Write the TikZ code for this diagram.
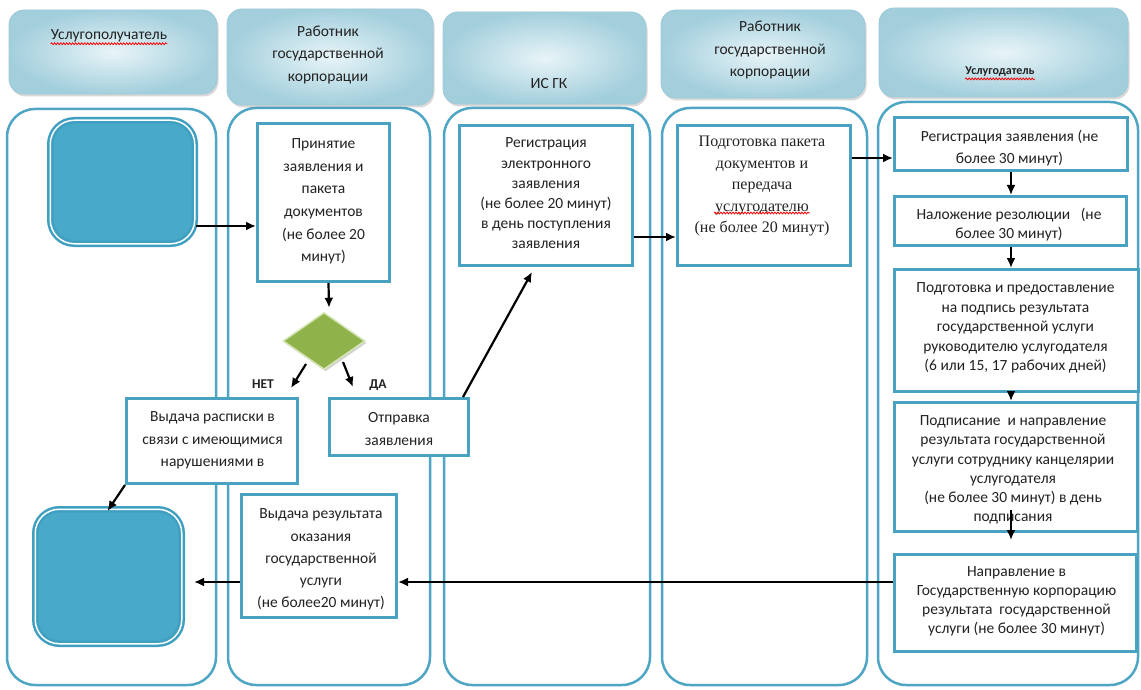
\documentclass[tikz,border=0pt]{standalone}
\usepackage{fontspec}
\setmainfont{Carlito}
\newfontfamily\serifru{Liberation Serif}
\usetikzlibrary{shapes.geometric,arrows.meta,calc,shadows,decorations.pathmorphing}
\newcommand\myfs[2]{\fontsize{#1pt}{#2pt}\selectfont}
\definecolor{lanecol}{HTML}{4EA5C4}
\definecolor{boxcol}{HTML}{4AA2C2}
\definecolor{termfill}{HTML}{48A9C8}
\definecolor{termring}{HTML}{3F9FC0}
\definecolor{hdrlight}{HTML}{E8F4F8}
\definecolor{hdrdark}{HTML}{A3CFDC}
\definecolor{hdrline}{HTML}{9CCAD8}
\definecolor{diafill}{HTML}{8FB24B}
\definecolor{diaedge}{HTML}{D5E5B3}
\definecolor{txtcol}{HTML}{222222}
\begin{document}
\begin{tikzpicture}[x=1pt,y=-1pt,
  lane/.style={draw=lanecol,line width=2.5pt,rounded corners=28pt},
  hdr/.style={rectangle,rounded corners=15pt,draw=hdrline,line width=0.8pt,
    inner color=hdrlight,outer color=hdrdark,
    drop shadow={shadow xshift=1.5pt,shadow yshift=-2.5pt,opacity=0.25,fill=black!60}},
  procbox/.style={rectangle,draw=boxcol,line width=3pt,fill=white,inner sep=0pt},
  term/.style={rectangle,rounded corners=24pt,fill=termfill,draw=termring,
    line width=2.5pt,double=white,double distance=1.5pt,inner sep=0pt},
  decision/.style={diamond,fill=diafill,draw=diaedge,line width=1.5pt,inner sep=0pt,
    drop shadow={shadow xshift=1.5pt,shadow yshift=-2pt,opacity=0.3,fill=black!60}},
  txt/.style={inner sep=0pt,align=center,text=txtcol,font=\myfs{15.5}{22.5}},
  lbl/.style={inner sep=0pt,text=txtcol,font=\bfseries\myfs{13.5}{16}},
  arr/.style={-{Latex[length=10pt,width=9pt]},line width=2.2pt,black},
  wavy/.style={draw=red,line width=0.8pt,decorate,decoration={snake,amplitude=0.9pt,segment length=3pt}}
]
\fill[white] (0,0) rectangle (1141,690);
\useasboundingbox (0,0) rectangle (1141,690);

% swimlanes
\draw[lane] (7,109) rectangle (216,685);
\draw[lane] (228,108) rectangle (430,685);
\draw[lane] (444,108) rectangle (650,685);
\draw[lane] (662,108) rectangle (867,685);
\draw[lane] (878,102) rectangle (1138,685);

% headers
\node[hdr,minimum width=208pt,minimum height=84pt] (h1) at (113,52) {};
\node[hdr,minimum width=206pt,minimum height=96pt] (h2) at (330,57) {};
\node[hdr,minimum width=203pt,minimum height=92pt] (h3) at (544.5,58) {};
\node[hdr,minimum width=204pt,minimum height=88pt] (h4) at (763,54) {};
\node[hdr,minimum width=249pt,minimum height=89pt] (h5) at (1003.5,52.5) {};

\node[txt] (h1t) at (109,36) {Услугополучатель};
\node[txt] (h2t) at (328,54.5) {Работник\\государственной\\корпорации};
\node[txt] (h3t) at (549,84) {ИС ГК};
\node[txt] (h4t) at (770,50) {Работник\\государственной\\корпорации};
\node[txt,font=\bfseries\myfs{12}{14}] (h5t) at (1000,72) {Услугодатель};
\draw[wavy] ($(h1t.base west)+(0,4)$) -- ($(h1t.base east)+(0,4)$);
\draw[wavy] ($(h5t.base west)+(0,4)$) -- ($(h5t.base east)+(0,4)$);

% terminals
\node[term,minimum width=144.5pt,minimum height=123.5pt] (start) at (122.5,182) {};
\node[term,minimum width=146.5pt,minimum height=134.5pt] (endb) at (108.5,576.5) {};

% process boxes
\node[procbox,minimum width=132pt,minimum height=158pt] (prin) at (323.5,202.5) {};
\node[txt,font=\myfs{15.5}{22.6}] (print) at (323.5,201.5) {Принятие\\заявления и\\пакета\\документов\\(не более 20\\минут)};

\node[decision,minimum width=82pt,minimum height=57pt] (dia) at (324,341) {};
\node[lbl] (net) at (263,384) {НЕТ};
\node[lbl] (da) at (378,385) {ДА};

\node[procbox,minimum width=171pt,minimum height=85pt] (rasp) at (212,441) {};
\node[txt] (raspt) at (212.5,440.5) {Выдача расписки в\\связи с имеющимися\\нарушениями в};

\node[procbox,minimum width=139pt,minimum height=57pt] (otpr) at (399,427) {};
\node[txt,font=\myfs{15.5}{23}] (otprt) at (399,429.5) {Отправка\\заявления};

\node[procbox,minimum width=155pt,minimum height=123pt] (vyd) at (319,556) {};
\node[txt,font=\myfs{15.5}{22.2}] (vydt) at (321,559.5) {Выдача результата\\оказания\\государственной\\услуги\\(не более20 минут)};

\node[procbox,minimum width=173pt,minimum height=140pt] (reg) at (546,195.5) {};
\node[txt,font=\myfs{15.5}{20.2}] (regt) at (546,193.5) {Регистрация\\электронного\\заявления\\(не более 20 минут)\\в день поступления\\заявления};

\node[procbox,minimum width=173pt,minimum height=140pt] (podg) at (764,195.5) {};
\node[txt,font=\serifru\myfs{16}{21.5}] (podgt) at (762,186) {Подготовка пакета\\документов и\\передача\\услугодателю\\(не более 20 минут)};
\draw[wavy] (714,213) -- (810,213);

\node[procbox,minimum width=233pt,minimum height=53pt] (r1) at (1011,144) {};
\node[txt,font=\myfs{15.5}{22}] (r1t) at (1009.5,148) {Регистрация заявления (не\\более 30 минут)};

\node[procbox,minimum width=232pt,minimum height=49pt] (r2) at (1010.5,221) {};
\node[txt,font=\myfs{15.5}{19}] (r2t) at (1009,224.5) {Наложение резолюции \ \ (не\\более 30 минут)};

\node[procbox,minimum width=244pt,minimum height=122pt] (r3) at (1016.5,330.5) {};
\node[txt,font=\myfs{15.5}{19.5}] (r3t) at (1015.5,328) {Подготовка и предоставление\\на подпись результата\\государственной услуги\\руководителю услугодателя\\(6 или 15, 17 рабочих дней)};

\node[procbox,minimum width=243pt,minimum height=129pt] (r4) at (1016,467) {};
\node[txt,font=\myfs{15.5}{19.3}] (r4t) at (1013,470) {Подписание \ и направление\\результата государственной\\услуги сотруднику канцелярии\\услугодателя\\(не более 30 минут) в день\\подписания};

\node[procbox,minimum width=242pt,minimum height=97pt] (r5) at (1015.5,603) {};
\node[txt,font=\myfs{15.5}{19}] (r5t) at (1016.5,601.5) {Направление в\\Государственную корпорацию\\результата \ государственной\\услуги (не более 30 минут)};

% helper levels
\coordinate (lvlA) at (0,226);
\coordinate (lvlB) at (0,237);
\coordinate (lvlC) at (0,158);
\coordinate (lvlD) at (0,582);
\coordinate (colR) at (1011,0);

% connectors
\draw[arr] (start.east |- lvlA) -- (prin.west |- lvlA);
\draw[arr] ($(prin.south)+(5,0)$) -- ($(dia.north)+(5,-4)$);
\draw[arr] ($(dia.center)+(-18,23)$) -- ($(dia.center)+(-33,47)$);
\draw[arr] ($(dia.center)+(19,21)$) -- ($(dia.center)+(29,46)$);
\draw[arr] (rasp.south west) -- ($(endb.north)+(-1,3)$);
\draw[arr] ($(otpr.north east)+(-7,0)$) -- ($(reg.south)+(-14,5)$);
\draw[arr] (reg.east |- lvlB) -- (podg.west |- lvlB);
\draw[arr] (podg.east |- lvlC) -- (r1.west |- lvlC);
\draw[arr] (r1.south -| colR) -- (r2.north -| colR);
\draw[arr] (r2.south -| colR) -- (r3.north -| colR);
\draw[arr] (r3.south -| colR) -- (r4.north -| colR);
\draw[arr] ($(r4.south -| colR)+(0,-23)$) -- ($(r5.north -| colR)+(0,-13)$);
\draw[arr] (r5.west |- lvlD) -- (vyd.east |- lvlD);
\draw[arr] (vyd.west |- lvlD) -- ($(endb.east |- lvlD)+(11,0)$);
\end{tikzpicture}
\end{document}
